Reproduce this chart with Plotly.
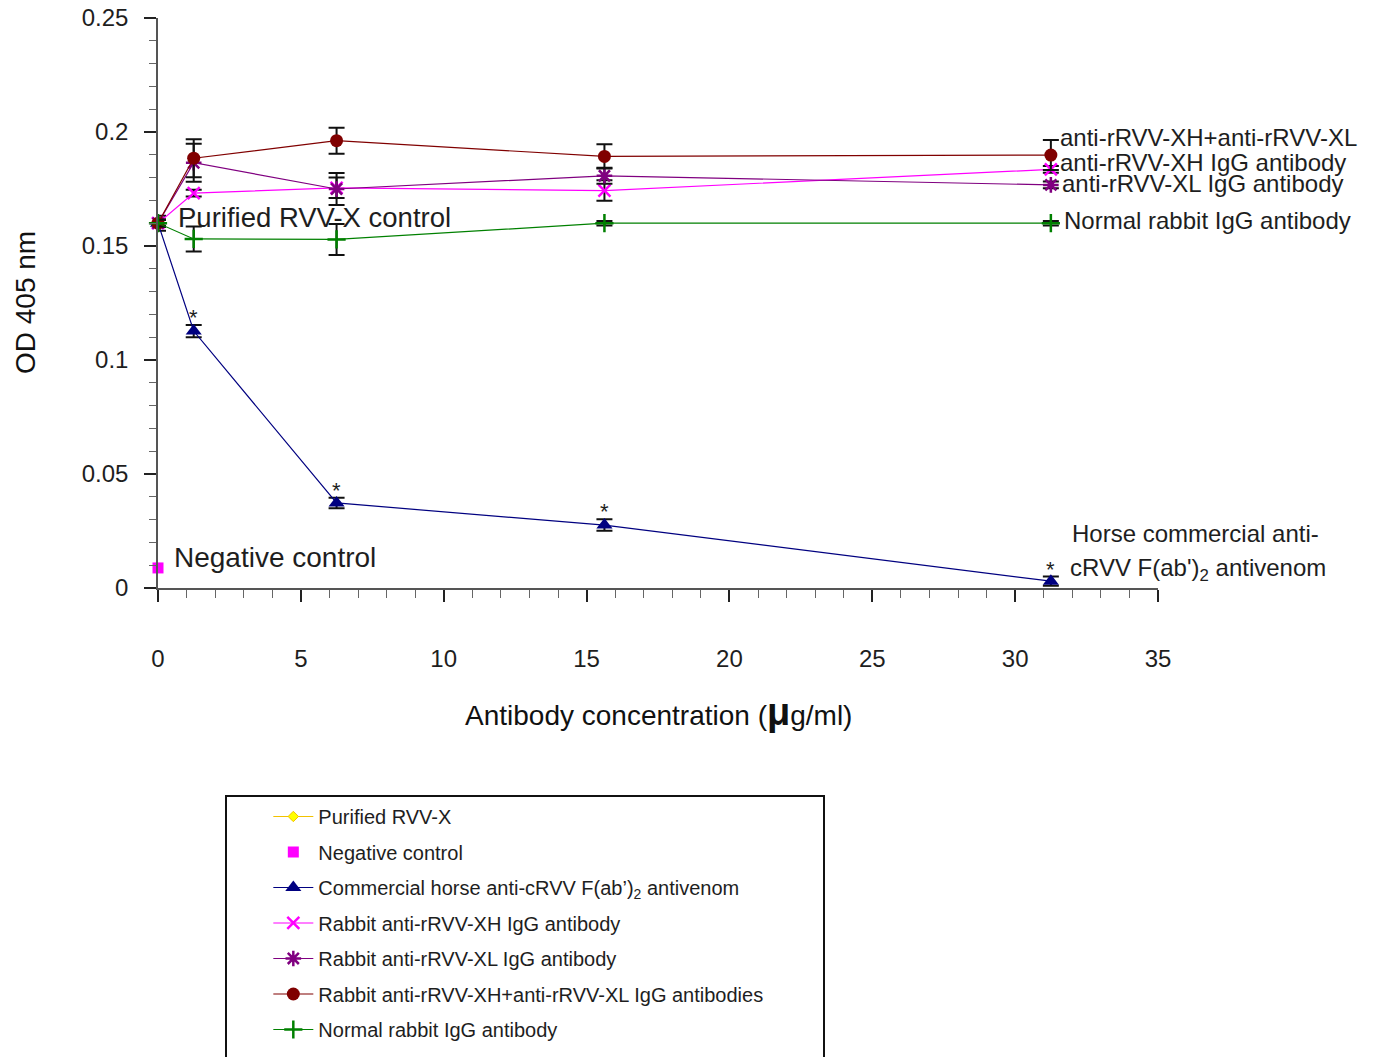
import plotly.graph_objects as go

# ---------------- data ----------------
conc = [0, 1.25, 6.25, 15.625, 31.25]

purified_x = [0]
purified_y = [0.160]
purified_err = [0.0033]

negative_x = [0]
negative_y = [0.0088]

horse_y = [0.160, 0.1127, 0.0373, 0.0276, 0.0030]
horse_err = [0.0015, 0.0027, 0.0023, 0.0025, 0.0020]

xh_y = [0.160, 0.1732, 0.1755, 0.1743, 0.1836]
xh_err = [0.0015, 0.0015, 0.0045, 0.0045, 0.0015]

xl_y = [0.160, 0.1865, 0.1750, 0.1808, 0.1768]
xl_err = [0.0015, 0.0083, 0.0070, 0.0035, 0.0015]

combo_y = [0.160, 0.1885, 0.1962, 0.1893, 0.1899]
combo_err = [0.0015, 0.0083, 0.0057, 0.0053, 0.0066]

normal_y = [0.160, 0.1531, 0.1529, 0.1600, 0.1600]
normal_err = [0.0015, 0.0055, 0.0068, 0.0010, 0.0010]

star_x = conc[1:]
star_y = [y + e for y, e in zip(horse_y[1:], horse_err[1:])]

names = [
    "Purified RVV-X",
    "Negative control",
    "Commercial horse anti-cRVV F(ab’)<sub>2</sub> antivenom",
    "Rabbit anti-rRVV-XH IgG antibody",
    "Rabbit anti-rRVV-XL IgG antibody",
    "Rabbit anti-rRVV-XH+anti-rRVV-XL IgG antibodies",
    "Normal rabbit IgG antibody",
]

FONT = "Liberation Sans, Arial, sans-serif"
TXT = "#1e1e1e"

def ebar(arr):
    return dict(type="data", array=arr, visible=True, color="#111111", thickness=2, width=8)

fig = go.Figure()

fig.add_trace(go.Scatter(
    x=purified_x, y=purified_y, name=names[0], mode="lines+markers",
    line=dict(color="#F2C200", width=1.2),
    marker=dict(symbol="diamond", size=8, color="#FFFF00", line=dict(color="#F2C200", width=1)),
    error_y=ebar(purified_err), cliponaxis=False, legendgroup="g0"))

fig.add_trace(go.Scatter(
    x=negative_x, y=negative_y, name=names[1], mode="markers",
    marker=dict(symbol="square", size=11, color="#FF00FF"),
    cliponaxis=False, legendgroup="g1"))

fig.add_trace(go.Scatter(
    x=conc, y=horse_y, name=names[2], mode="lines+markers",
    line=dict(color="#000080", width=1.2),
    marker=dict(symbol="triangle-up", size=14, color="#000080"),
    error_y=ebar(horse_err), cliponaxis=False, legendgroup="g2"))

fig.add_trace(go.Scatter(
    x=conc, y=xh_y, name=names[3], mode="lines+markers",
    line=dict(color="#FF00FF", width=1.2),
    marker=dict(symbol="x-thin", size=12, color="#FF00FF", line=dict(color="#FF00FF", width=2.5)),
    error_y=ebar(xh_err), cliponaxis=False, legendgroup="g3"))

fig.add_trace(go.Scatter(
    x=conc, y=xl_y, name=names[4], mode="lines+markers",
    line=dict(color="#800080", width=1.2),
    marker=dict(symbol="asterisk", size=13, color="#800080", line=dict(color="#800080", width=2.5)),
    error_y=ebar(xl_err), cliponaxis=False, legendgroup="g4"))

fig.add_trace(go.Scatter(
    x=conc, y=combo_y, name=names[5], mode="lines+markers",
    line=dict(color="#800000", width=1.2),
    marker=dict(symbol="circle", size=13, color="#800000"),
    error_y=ebar(combo_err), cliponaxis=False, legendgroup="g5"))

fig.add_trace(go.Scatter(
    x=conc, y=normal_y, name=names[6], mode="lines+markers",
    line=dict(color="#008000", width=1.2),
    marker=dict(symbol="cross-thin", size=13, color="#008000", line=dict(color="#008000", width=2.5)),
    error_y=ebar(normal_err), cliponaxis=False, legendgroup="g6"))

# ---------------- annotations ----------------
labels = [
    ("Purified RVV-X control", 0.63, 0.1625, 27.5),
    ("Negative control", 0.49, 0.0132, 28),
    ("anti-rRVV-XH+anti-rRVV-XL", 31.5, 0.1974, 24),
    ("anti-rRVV-XH IgG antibody", 31.5, 0.1868, 24),
    ("anti-rRVV-XL IgG antibody", 31.58, 0.1772, 24),
    ("Normal rabbit IgG antibody", 31.64, 0.1614, 24),
    ("Horse commercial anti-", 31.92, 0.0241, 24),
    ("cRVV F(ab')<sub>2</sub> antivenom", 31.85, 0.0083, 24),
]
annotations = []
for t, x, y, s in labels:
    annotations.append(dict(text=t, x=x, y=y, xref="x", yref="y", xanchor="left",
                            yanchor="middle", showarrow=False,
                            font=dict(size=s, color=TXT, family=FONT)))

# significance asterisks above the antivenom points
for sx, sy in zip(star_x, star_y):
    annotations.append(dict(text="*", x=sx, y=sy, xref="x", yref="y", xanchor="center",
                            yanchor="bottom", yshift=-7, showarrow=False,
                            font=dict(size=22, color=TXT, family=FONT)))

# axis titles
annotations.append(dict(text="OD 405 nm", x=-0.133, y=0.5, xref="paper", yref="paper",
                        xanchor="center", yanchor="middle", textangle=-90, showarrow=False,
                        font=dict(size=28, color="#111111", family=FONT)))
annotations.append(dict(text="Antibody concentration (<b><span style='font-size:38px'>μ</span></b>g/ml)",
                        x=0.5, y=(588 - 712) / 570, xref="paper", yref="paper",
                        xanchor="center", yanchor="middle", showarrow=False,
                        font=dict(size=28, color="#111111", family=FONT)))

fig.update_layout(
    width=1376, height=1057,
    margin=dict(l=158, r=218, t=18, b=469, autoexpand=False),
    paper_bgcolor="white", plot_bgcolor="white",
    font=dict(family=FONT, color=TXT),
    annotations=annotations,
    showlegend=True,
    legend=dict(
        xref="container", yref="container", x=0.195, y=0.246,
        xanchor="left", yanchor="top",
        font=dict(size=20, color=TXT, family=FONT),
        bgcolor="rgba(0,0,0,0)", borderwidth=0,
        tracegroupgap=6.5, traceorder="grouped", itemwidth=40,
    ),
    shapes=[dict(type="rect", xref="paper", yref="paper",
                 x0=0.068, x1=0.666, y0=-0.84, y1=-0.365,
                 line=dict(color="#111111", width=2), fillcolor="rgba(0,0,0,0)")],
)

fig.update_xaxes(
    range=[0, 35], dtick=5, tick0=0, automargin=False,
    showgrid=False, zeroline=False,
    showline=True, linecolor="#555555", linewidth=1.5,
    ticks="outside", ticklen=12, tickwidth=1.5, tickcolor="#222222",
    minor=dict(dtick=1, ticks="outside", ticklen=8, tickcolor="#666666", tickwidth=1.2, showgrid=False),
    tickfont=dict(size=24, color=TXT, family=FONT),
    ticklabelstandoff=36,
)

fig.update_yaxes(
    range=[0, 0.25], dtick=0.05, tick0=0, automargin=False,
    showgrid=False, zeroline=False,
    showline=True, linecolor="#555555", linewidth=1.5,
    ticks="outside", ticklen=12, tickwidth=1.5, tickcolor="#222222",
    minor=dict(dtick=0.01, ticks="outside", ticklen=7, tickcolor="#666666", tickwidth=1.2, showgrid=False),
    tickfont=dict(size=24, color=TXT, family=FONT),
    ticklabelstandoff=11,
)

fig.write_html("out.html")
